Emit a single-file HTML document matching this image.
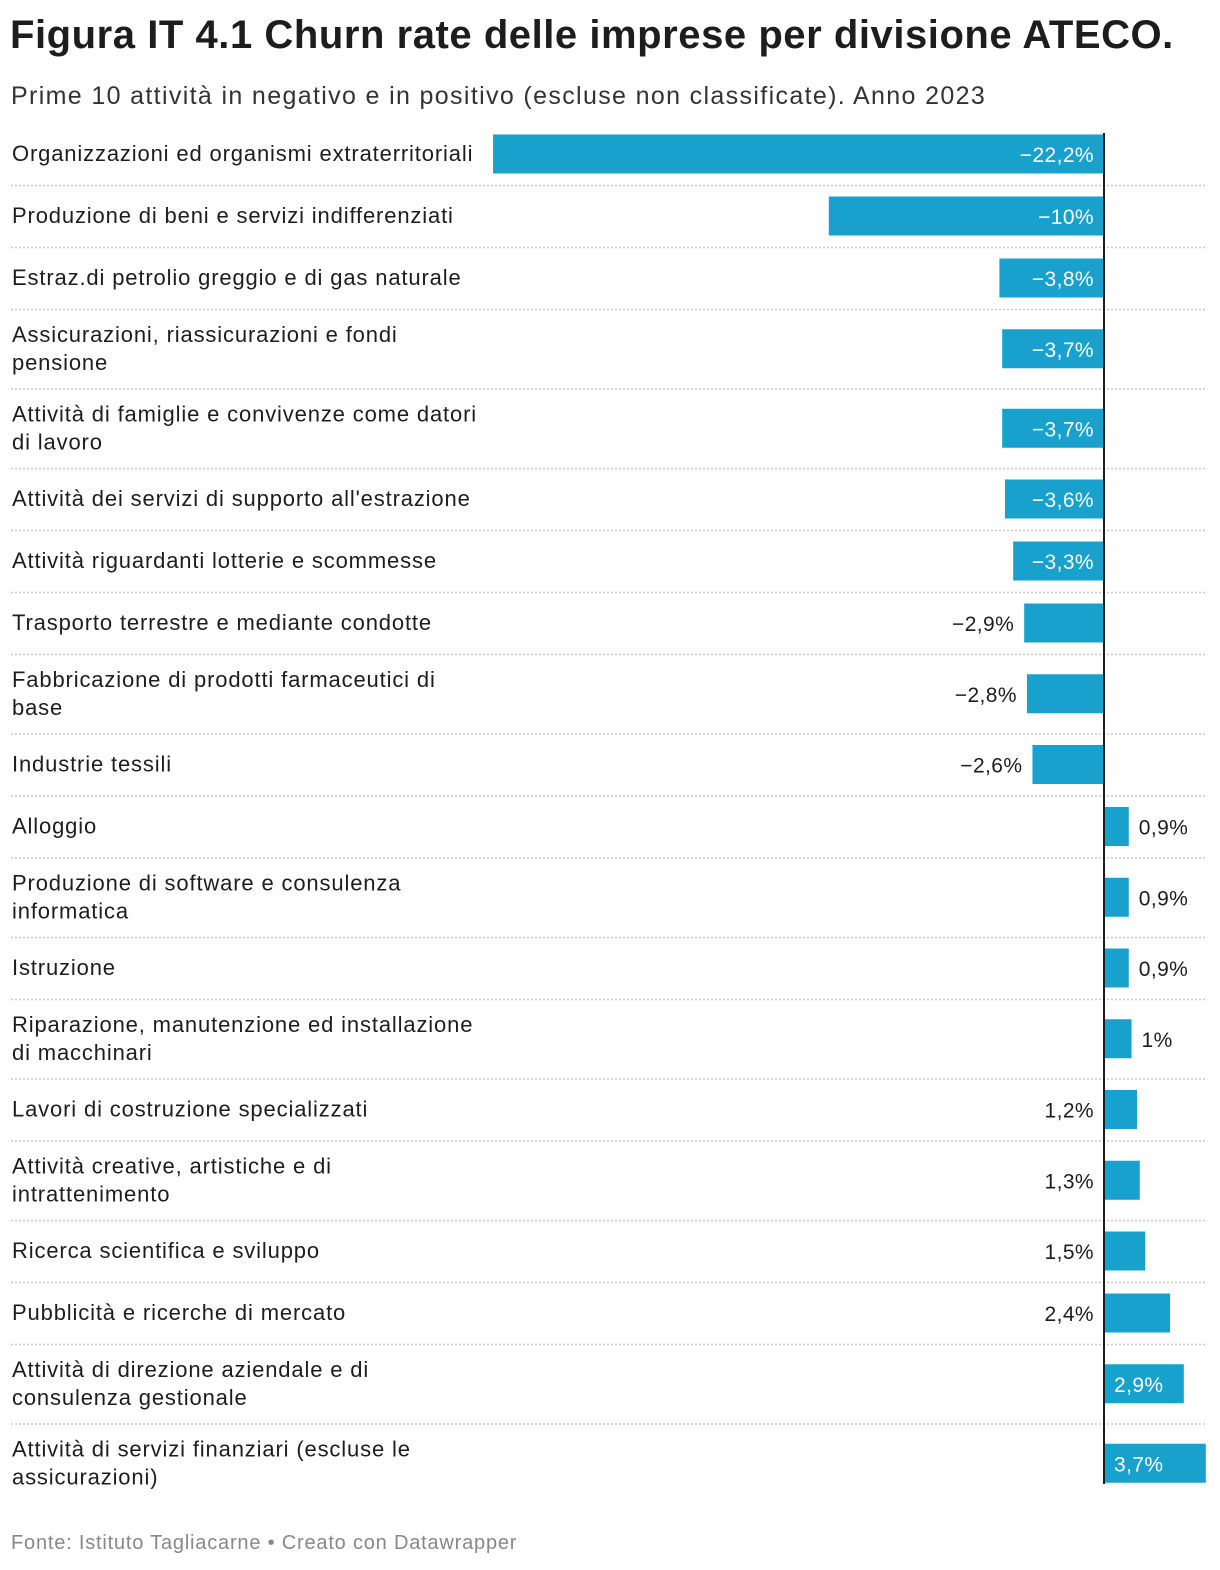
<!DOCTYPE html>
<html><head><meta charset="utf-8">
<style>
body{margin:0;background:#fff;font-family:"Liberation Sans",sans-serif;color:#1d1d1d;width:1220px;height:1570px;position:relative;overflow:hidden}
#title{position:absolute;left:10px;top:13px;font-size:40px;font-weight:bold;letter-spacing:0.55px;margin:0}
#sub{position:absolute;left:11px;top:82px;font-size:25px;letter-spacing:1.35px;color:#333}
#foot{position:absolute;left:11px;top:1532px;font-size:20px;letter-spacing:0.8px;color:#888}
svg{position:absolute;left:0;top:0}
</style></head><body>
<h1 id="title">Figura IT 4.1 Churn rate delle imprese per divisione ATECO.</h1>
<div id="sub">Prime 10 attività in negativo e in positivo (escluse non classificate). Anno 2023</div>
<div id="foot">Fonte: Istituto Tagliacarne • Creato con Datawrapper</div>
<svg id="chart" width="1220" height="1570"></svg>
<script>
const categories=[["Organizzazioni ed organismi extraterritoriali"],["Produzione di beni e servizi indifferenziati"],["Estraz.di petrolio greggio e di gas naturale"],["Assicurazioni, riassicurazioni e fondi","pensione"],["Attività di famiglie e convivenze come datori","di lavoro"],["Attività dei servizi di supporto all'estrazione"],["Attività riguardanti lotterie e scommesse"],["Trasporto terrestre e mediante condotte"],["Fabbricazione di prodotti farmaceutici di","base"],["Industrie tessili"],["Alloggio"],["Produzione di software e consulenza","informatica"],["Istruzione"],["Riparazione, manutenzione ed installazione","di macchinari"],["Lavori di costruzione specializzati"],["Attività creative, artistiche e di","intrattenimento"],["Ricerca scientifica e sviluppo"],["Pubblicità e ricerche di mercato"],["Attività di direzione aziendale e di","consulenza gestionale"],["Attività di servizi finanziari (escluse le","assicurazioni)"]];
const values=[-22.2,-10,-3.8,-3.7,-3.7,-3.6,-3.3,-2.9,-2.8,-2.6,0.9,0.9,0.9,1,1.2,1.3,1.5,2.4,2.9,3.7];
const valueLabels=["−22,2%","−10%","−3,8%","−3,7%","−3,7%","−3,6%","−3,3%","−2,9%","−2,8%","−2,6%","0,9%","0,9%","0,9%","1%","1,2%","1,3%","1,5%","2,4%","2,9%","3,7%"];
const svg=document.getElementById('chart');const NS='http://www.w3.org/2000/svg';
const x0=1104,k=27.52;const xs=v=>x0+v*k;
function mk(t,a){const e=document.createElementNS(NS,t);for(const n in a)e.setAttribute(n,a[n]);svg.appendChild(e);return e;}
let y=123;
categories.forEach((c,i)=>{
 const h=c.length>1?79.5:62;const cy=y+h/2;const v=values[i];
 const lab=mk('text',{x:12,y:cy-(c.length-1)*14+7,'font-size':22,'letter-spacing':0.85,fill:'#1d1d1d'});
 
 
 c.forEach((l,j)=>{const t=document.createElementNS(NS,'tspan');t.setAttribute('x',12);if(j)t.setAttribute('dy',28);t.textContent=l;lab.appendChild(t);});
 const bx=Math.min(xs(v),x0),bw=Math.abs(xs(v)-x0);
 const r=mk('rect',{x:bx,y:cy-19.5,width:bw,height:39,fill:'#18a1cd'});
 
 
 let tx,anchor,col;
 if(v<0){if(v<=-3){tx=x0-10;anchor='end';col='#fff';}else{tx=xs(v)-10;anchor='end';col='#1d1d1d';}}
 else{if(v<=1){tx=xs(v)+10;anchor='start';col='#1d1d1d';}else if(v<2.5){tx=x0-10;anchor='end';col='#1d1d1d';}else{tx=x0+10;anchor='start';col='#fff';}}
 const vl=mk('text',{x:tx,y:cy+8,'font-size':21,'letter-spacing':0.4,fill:col,'text-anchor':anchor});
 
 
 vl.textContent=valueLabels[i];
 y+=h;
 if(i<categories.length-1){const s=mk('line',{x1:11,x2:1206,y1:y+0.5,y2:y+0.5,stroke:'#c8c8c8','stroke-width':1.5,'stroke-dasharray':'2,2'});
 
 }
});
const ax=mk('line',{x1:x0,x2:x0,y1:133,y2:y-19,stroke:'#1d1d1d','stroke-width':2});


</script>
</body></html>
